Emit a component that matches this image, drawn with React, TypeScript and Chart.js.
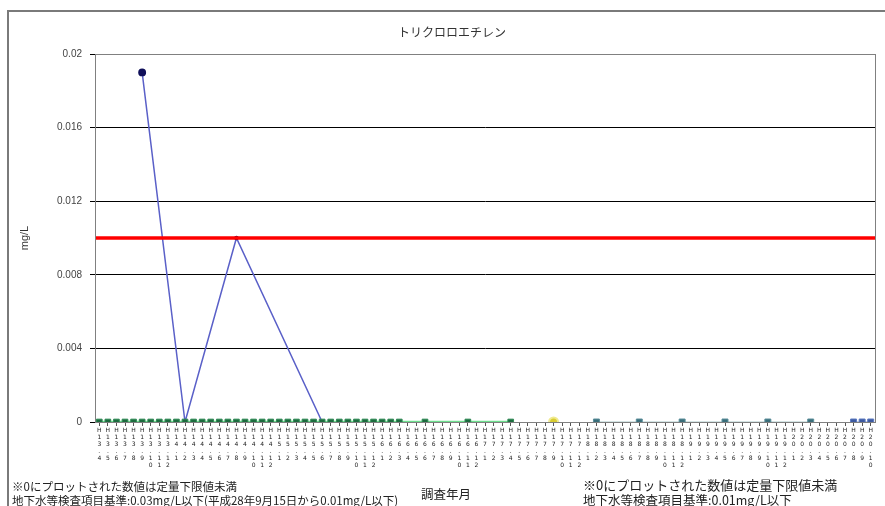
import React, { useEffect, useRef } from "react";
import { Chart, registerables } from "chart.js";

Chart.register(...registerables);

const chartTitle = "トリクロロエチレン";
const yAxisTitle = "mg/L";
const xAxisTitle = "調査年月";

const months = [
  "H13.4", "H13.5", "H13.6", "H13.7", "H13.8", "H13.9", "H13.10", "H13.11", "H13.12",
  "H14.1", "H14.2", "H14.3", "H14.4", "H14.5", "H14.6", "H14.7", "H14.8", "H14.9", "H14.10", "H14.11", "H14.12",
  "H15.1", "H15.2", "H15.3", "H15.4", "H15.5", "H15.6", "H15.7", "H15.8", "H15.9", "H15.10", "H15.11", "H15.12",
  "H16.1", "H16.2", "H16.3", "H16.4", "H16.5", "H16.6", "H16.7", "H16.8", "H16.9", "H16.10", "H16.11", "H16.12",
  "H17.1", "H17.2", "H17.3", "H17.4", "H17.5", "H17.6", "H17.7", "H17.8", "H17.9", "H17.10", "H17.11", "H17.12",
  "H18.1", "H18.2", "H18.3", "H18.4", "H18.5", "H18.6", "H18.7", "H18.8", "H18.9", "H18.10", "H18.11", "H18.12",
  "H19.1", "H19.2", "H19.3", "H19.4", "H19.5", "H19.6", "H19.7", "H19.8", "H19.9", "H19.10", "H19.11", "H19.12",
  "H20.1", "H20.2", "H20.3", "H20.4", "H20.5", "H20.6", "H20.7", "H20.8", "H20.9", "H20.10",
];

const yTicks = [0, 0.004, 0.008, 0.012, 0.016, 0.02];
const standardValue = 0.01;

// well with detections (blue line)
const wellAIdx = [5, 10, 16, 26];
const wellAVals = [0.019, 0, 0.01, 0];

// dense monthly well (green)
const wellBIdx = [
  0, 1, 2, 3, 4, 5, 6, 7, 8, 9, 10, 11, 12, 13, 14, 15, 16, 17, 18, 19,
  20, 21, 22, 23, 24, 25, 26, 27, 28, 29, 30, 31, 32, 33, 34, 35, 38, 43, 48,
];
const wellBVals = [
  0, 0, 0, 0, 0, 0, 0, 0, 0, 0, 0, 0, 0, 0, 0, 0, 0, 0, 0, 0,
  0, 0, 0, 0, 0, 0, 0, 0, 0, 0, 0, 0, 0, 0, 0, 0, 0, 0, 0,
];

// yellow well
const wellCIdx = [53];
const wellCVals = [0];

// teal well
const wellDIdx = [58, 63, 68, 73, 78, 83];
const wellDVals = [0, 0, 0, 0, 0, 0];

// blue well at end
const wellEIdx = [88, 89, 90];
const wellEVals = [0, 0, 0];

const toPoints = (idx: number[], vals: number[]) =>
  idx.map((i, k) => ({ x: months[i], y: vals[k] }));

const plotBorder = {
  id: "plotBorder",
  afterDraw(chart: any) {
    const { ctx, chartArea } = chart;
    ctx.save();
    ctx.strokeStyle = "#808080";
    ctx.lineWidth = 1;
    ctx.strokeRect(chartArea.left + 0.5, chartArea.top + 0.5, chartArea.right - chartArea.left, chartArea.bottom - chartArea.top);
    ctx.restore();
  },
};

export default function App() {
  const canvasRef = useRef<HTMLCanvasElement | null>(null);

  useEffect(() => {
    if (!canvasRef.current) return;
    const chart = new Chart(canvasRef.current, {
      type: "line",
      data: {
        labels: months,
        datasets: [
          {
            label: "基準",
            xAxisID: "x2",
            data: [
              { x: 0, y: standardValue },
              { x: 1, y: standardValue },
            ],
            borderColor: "#ff0000",
            borderWidth: 3.5,
            pointRadius: 0,
            order: 1,
          },
          {
            label: "A",
            data: toPoints(wellAIdx, wellAVals),
            borderColor: "#5a60c8",
            borderWidth: 1.5,
            pointRadius: [3.2, 0, 1.5, 0],
            pointBackgroundColor: "#10105a",
            pointBorderColor: "#10105a",
            order: 3,
          },
          {
            label: "B",
            data: toPoints(wellBIdx, wellBVals),
            borderColor: "#6ee08e",
            borderWidth: 2.5,
            pointStyle: "rect",
            pointRadius: 4,
            pointBackgroundColor: "#1c6b3e",
            pointBorderColor: "#2f8a55",
            pointBorderWidth: 1,
            order: 2,
          },
          {
            label: "C",
            data: toPoints(wellCIdx, wellCVals),
            borderColor: "#e8e070",
            borderWidth: 1,
            pointStyle: "circle",
            pointRadius: 4.5,
            pointBackgroundColor: "#d8cc30",
            pointBorderColor: "#f0ea90",
            pointBorderWidth: 2,
            order: 2,
          },
          {
            label: "D",
            data: toPoints(wellDIdx, wellDVals),
            borderColor: "#a8c8c8",
            borderWidth: 1,
            pointStyle: "rect",
            pointRadius: 4.2,
            pointBackgroundColor: "#3a6e7a",
            pointBorderColor: "#5a8e9a",
            order: 2,
          },
          {
            label: "E",
            data: toPoints(wellEIdx, wellEVals),
            borderColor: "#8aa0d0",
            borderWidth: 1,
            pointStyle: "rect",
            pointRadius: 4.2,
            pointBackgroundColor: "#3d5aa0",
            pointBorderColor: "#5a78c0",
            order: 2,
          },
        ],
      },
      options: {
        responsive: false,
        animation: false,
        layout: { padding: { top: 54, right: 10, bottom: 0, left: 0 } },
        plugins: {
          legend: { display: false },
          title: { display: false },
          tooltip: { enabled: false },
        },
        scales: {
          x: {
            type: "category",
            offset: true,
            grid: { display: true, drawOnChartArea: false, drawTicks: true, tickLength: 4, color: "#555" },
            border: { display: false },
            ticks: {
              autoSkip: false,
              maxRotation: 0,
              minRotation: 0,
              padding: 1,
              color: "#222",
              font: { family: "DejaVu Sans", size: 6, lineHeight: 1.15 },
              callback: (_v: any, i: number) => months[i].split(""),
            },
            afterFit: (scale: any) => {
              scale.height = 84;
            },
          },
          x2: {
            type: "linear",
            display: false,
            min: 0,
            max: 1,
          },
          y: {
            min: 0,
            max: 0.02,
            afterBuildTicks: (scale: any) => {
              scale.ticks = yTicks.map((v) => ({ value: v }));
            },
            grid: { color: "#000", lineWidth: 1, tickLength: 5 },
            border: { display: true, color: "#808080" },
            ticks: {
              padding: 8,
              color: "#444",
              font: { family: "Liberation Sans", size: 10 },
              callback: (v: any) => String(Number(v)),
            },
            title: {
              display: true,
              text: yAxisTitle,
              color: "#333",
              padding: { top: 18, bottom: 0 },
              font: { family: "Liberation Sans", size: 11 },
            },
            afterFit: (scale: any) => {
              scale.width = 95;
            },
          },
        },
      },
      plugins: [plotBorder],
    });
    return () => chart.destroy();
  }, []);

  const cjk = '"Noto Sans CJK JP", sans-serif';

  return (
    <div style={{ position: "absolute", left: 0, top: 0, width: 885, height: 506, background: "#fff", overflow: "hidden" }}>
      <div
        style={{
          position: "absolute",
          left: 7,
          top: 10,
          right: -5,
          bottom: -5,
          borderLeft: "2px solid #7a7a7a",
          borderTop: "2px solid #7a7a7a",
        }}
      />
      <canvas ref={canvasRef} width={885} height={506} style={{ position: "absolute", left: 0, top: 0 }} />
      <div
        style={{
          position: "absolute",
          left: 452,
          top: 23,
          transform: "translateX(-50%)",
          fontFamily: cjk,
          fontSize: 12,
          color: "#333",
          whiteSpace: "nowrap",
        }}
      >
        {chartTitle}
      </div>
      <div style={{ position: "absolute", left: 12, top: 479, fontFamily: cjk, fontSize: 11.5, color: "#222", whiteSpace: "nowrap", lineHeight: "14px" }}>
        <div>※0にプロットされた数値は定量下限値未満</div>
        <div style={{ fontSize: 11.5 }}>地下水等検査項目基準:0.03mg/L以下(平成28年9月15日から0.01mg/L以下)</div>
      </div>
      <div style={{ position: "absolute", left: 421, top: 484, fontFamily: cjk, fontSize: 12.5, color: "#222", whiteSpace: "nowrap" }}>
        {xAxisTitle}
      </div>
      <div style={{ position: "absolute", left: 583, top: 477, fontFamily: cjk, fontSize: 13, color: "#222", whiteSpace: "nowrap", lineHeight: "15px" }}>
        <div>※0にプロットされた数値は定量下限値未満</div>
        <div style={{ fontSize: 12.5 }}>地下水等検査項目基準:0.01mg/L以下</div>
      </div>
    </div>
  );
}
